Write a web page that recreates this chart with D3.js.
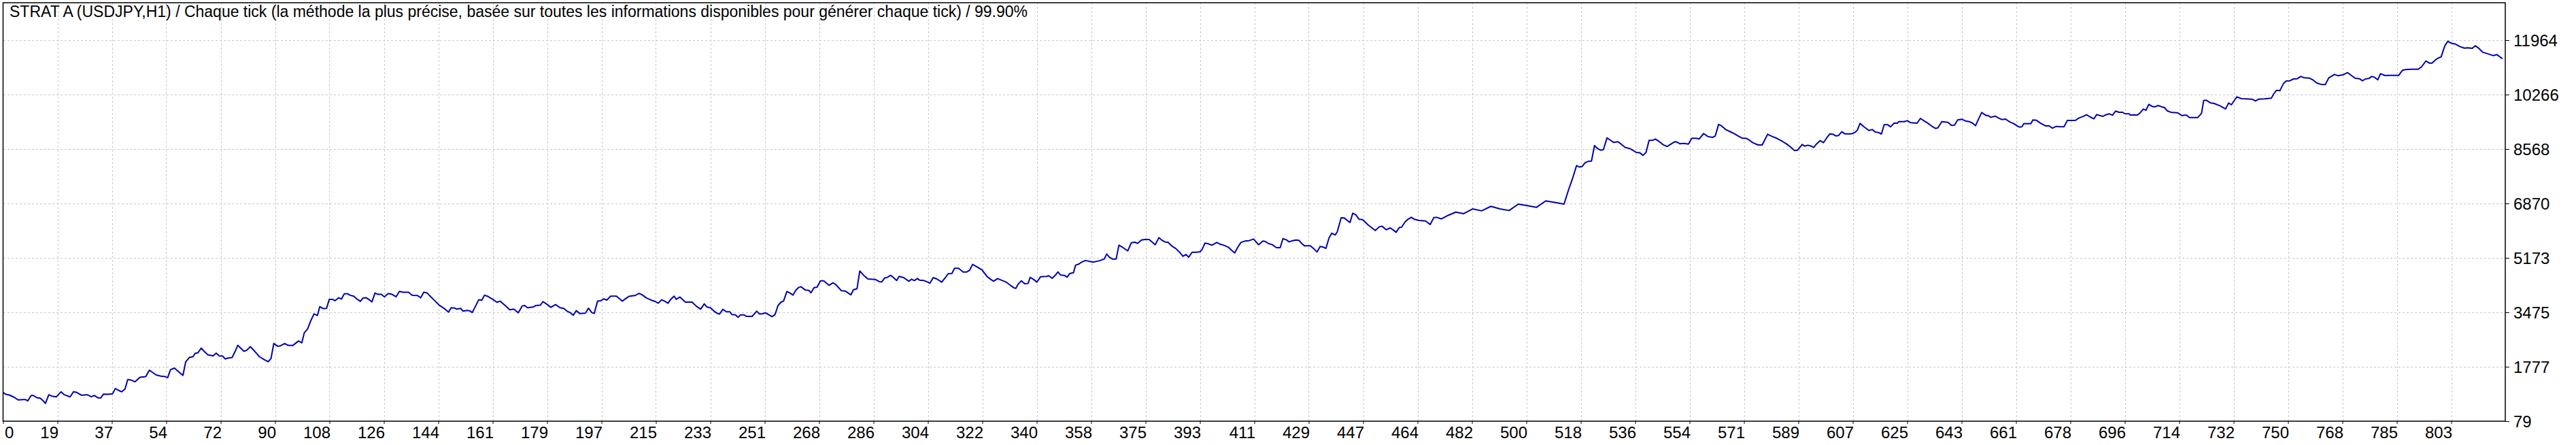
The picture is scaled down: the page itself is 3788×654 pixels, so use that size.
<!DOCTYPE html>
<html><head><meta charset="utf-8">
<script src="https://cdn.jsdelivr.net/npm/d3@7/dist/d3.min.js"></script>
<style>html,body{margin:0;padding:0;background:#fff;overflow:hidden}svg{display:block}</style>
</head><body><svg id="c" width="3788" height="654"></svg>
<script>
const titleText = "STRAT A (USDJPY,H1) / Chaque tick (la méthode la plus précise, basée sur toutes les informations disponibles pour générer chaque tick) / 99.90%";
const xTickLabels = [0,19,37,54,72,90,108,126,144,161,179,197,215,233,251,268,286,304,322,340,358,375,393,411,429,447,464,482,500,518,536,554,571,589,607,625,643,661,678,696,714,732,750,768,785,803];
const yTickLabels = [79,1777,3475,5173,6870,8568,10266,11964];
const trades = [
0,0.9,2,3.5,5,6.5,7.3,8.1,9.2,9.9,11.1,12.2,13.3,13.9,15,16,17.5,19,20.1,22,23.1,24.2,25.7,27.6,29,29.9,31.2,32.1,32.9,34.4,35.9,36.8,37.8,38.9,40,40.9,41.9,43.3,44.9,46.8,48,50.2,51.7,53.1,54,54.9,56.2,57.7,59,59.9,61.1,62.3,63,63.9,65,66,67.2,68.9,69.9,70.9,72,72.9,73.9,75.1,76,77,79,79.9,81.1,82.6,84.1,85.6,87,87.9,88.8,90.1,91,92.4,93.5,95,96.9,98,98.8,99.9,101,102,103.1,103.9,105,106.1,107,108,108.9,110.1,111,111.9,113.1,113.8,115,116.2,
117.2,118.1,119.1,119.9,121,122,122.9,124,125.1,126.3,127.4,128.9,130,131.2,133,134.2,135.9,137,138,139.1,139.8,141.3,143.2,144.7,146.1,147,148.1,148.8,150.1,150.9,152.2,153,153.9,154.9,156,157,157.9,159,160.5,162,163,164.7,166.2,167.5,169,170.3,171.1,172,173.8,174.8,176.2,177.1,178.2,179.7,181.2,182.7,183.9,185,186.1,187,188,189.1,191,192,193.1,193.9,195,196.1,197,198,199.3,201.2,203.1,204.2,205.3,206.8,207.4,208.5,209.5,211,212.5,214,214.9,216,217,218.1,219,220.1,220.8,222,223.8,226,227.3,228.8,230,230.9,232,233.2,234.3,235,
236.1,237.2,238.4,239.1,240.2,241.1,241.9,243,243.8,245.7,247.2,248.1,249.1,250,251.3,252.2,253.2,254.2,255.2,256,257.1,258.1,259.1,260,261,261.7,263.2,264.3,265,266,267,268.1,269.2,270.9,272.2,273.1,275,276.2,278.1,278.9,280.1,281,282.3,283.7,286.1,287.4,288.2,289.2,289.9,291.1,292.1,293.1,293.9,295.4,297.1,298,298.9,299.9,300.6,302.1,303.3,304,305.1,306.3,307.9,308.9,310,311.2,312.1,313.4,314.9,316.1,317,318,319.5,321.1,322.8,324,324.9,326.2,327.4,328.9,330.4,331.7,332.2,333,334,335.1,336.2,336.9,338,339.1,340.3,342.3,343,344.1,345.2,346,346.9,348.1,349,349.9,351.1,351.8,352.8,353.6,
355,357.5,359.5,
361.2,362,362.9,363.9,365.1,366,367.3,368.9,370.1,371.2,372.1,373.4,374.8,375.9,376.9,377.9,379.1,380.1,381.2,382.1,383.4,384.7,385.9,387,388,388.9,390,391.3,392.6,393.3,394.2,395.3,396.5,398.1,399.3,400.4,401.9,403,404,404.9,406,407.3,408.7,410.2,410.9,411.8,413.2,413.9,415.1,416.2,417.7,418.9,419.8,420.9,421.8,423,424.1,425.1,426,426.9,428.8,430.1,431,432,433.1,433.9,434.9,435.8,436.9,437.6,438.9,439.9,441.8,442.7,443.7,444.8,445.9,447.8,450.1,451.4,452.3,453.7,455,456.1,456.9,458,458.7,459.9,460.8,461.9,462.9,464.4,466.6,468.1,469.3,470.2,471.8,
474,476.5,479,482,485,488,491,494,497,500,503,506,509,512,513.5,
514.9,516.1,517,518,518.9,520,521,522,523.1,524,524.9,526.1,527.2,528.3,529.7,530.7,532.1,533.6,534.5,535.7,536.8,537.9,538.9,539.9,541,542,543,544.5,545.8,547.2,548.3,549,550,551.3,552.8,553.9,555.4,556.3,557.8,559.2,560.7,561.6,562.7,563.6,565.1,566.4,567.9,569.4,570.6,571.8,572.8,573.9,575.6,577,578.8,580.3,581.8,583.7,585,586.3,587.6,588.6,
590.1,590.9,592,593,593.9,594.8,596,597.1,598,599.2,600.2,601.1,602,603.1,604.1,606.3,607.5,608.2,609.1,610.5,612,613.1,614.1,615.1,616.1,617,618.2,619.1,620.3,621.4,621.8,623.6,624.6,625.7,627.8,628.9,630,631.2,632.7,633.8,634.6,635.9,637.9,639.1,640.1,641.1,642.6,643.6,644.9,646,647,647.7,649,650.4,651,652,653.4,654.5,655.6,656.8,658.3,659.4,660.5,661.3,662.2,662.8,665.1,665.8,666.9,668.4,669.9,671.1,672.2,673.5,674.5,676,677.1,678.2,679.7,680.9,682,683.4,684.6,685.8,686.7,687.9,688.8,689.7,690.9,691.9,692.9,694,695.2,695.9,697.4,697.8,698.9,699.9,700.8,702,702.9,703.8,705,706.1,706.8,
708.3,708.9,709.9,711.3,713.2,714.7,715.4,716.2,717.1,719.9,721.1,721.8,722.7,724.1,725.2,727.1,729,730,730.9,731.8,732.7,734.2,737.6,738.8,739.9,741.8,744,744.8,745.7,746.8,748,748.9,750.1,751.3,752.5,753.7,754.8,756.4,757.6,758.9,760.6,761.7,762.8,764.7,765.9,767.7,769,770.2,771.5,772.9,773.9,774.9,776,776.9,777.9,778.9,779.8,781.3,782.8,785.8,787,788.1,790,792.2,793.3,794.7,795.8,796.7,798.2,799.7,800.9,801.9,802.9,804.3,805.8,807.3,808.4,809.9,810.9,812,813.3,815.2,816.7,818,818.9,819.8
];
const balance = [
974,917,896,832,740,754,754,711,882,882,811,796,704,633,903,860,839,995,903,839,995,974,889,903,839,882,804,804,924,917,931,1095,1045,995,1081,1379,1365,1308,1450,1471,1670,1521,1486,1471,1436,1685,1734,1613,1507,1926,2068,2090,2196,2210,2360,2253,2146,2118,2203,2118,2111,2018,2054,2061,2232,2445,2260,2288,2402,2253,2090,2004,1933,2040,2502,2416,2431,2502,2445,2438,2580,2523,2836,2956,3226,3425,3376,3653,3589,3596,3880,3880,3837,3930,3887,4051,4051,4008,3979,3880,
3816,3922,3929,3880,3802,4078,4036,4036,3958,4057,4043,3958,4128,4100,4100,4007,4000,3929,4100,4078,4007,3865,3688,3596,3482,3617,3610,3574,3596,3510,3532,3525,3468,3652,3865,3851,4007,3972,3887,3787,3823,3688,3553,3574,3461,3674,3688,3617,3638,3688,3695,3809,3738,3631,3716,3617,3596,3510,3461,3383,3525,3440,3447,3603,3468,3440,3823,3837,3894,3858,3979,3979,3823,3901,3972,3993,4000,4064,4029,3922,3858,3809,3759,3865,3823,3759,3880,3979,3880,3951,3794,3794,3674,3574,3738,3638,3617,3510,3440,3420,
3567,3496,3489,3404,3397,3319,3397,3397,3348,3348,3510,3425,3425,3461,3390,3341,3404,3687,3793,3829,4126,4076,4013,4161,4253,4274,4168,4161,4083,4246,4260,4458,4458,4317,4395,4345,4147,4140,4020,4175,4211,4763,4628,4515,4501,4430,4423,4550,4557,4628,4557,4465,4593,4557,4444,4508,4465,4529,4480,4465,4416,4381,4557,4515,4416,4536,4678,4685,4848,4848,4734,4734,4784,4968,4890,4798,4586,4501,4444,4529,4480,4423,4317,4232,4225,4359,4458,4366,4374,4565,4501,4416,4586,4593,4614,4536,4635,4734,4635,4628,4572,4685,4713,4947,4975,5031,
5090,5040,5080,
5137,5292,5193,5137,5137,5568,5497,5391,5646,5660,5625,5731,5752,5745,5667,5582,5802,5724,5667,5660,5540,5462,5349,5222,5278,5193,5349,5349,5363,5434,5632,5611,5568,5653,5596,5568,5505,5405,5328,5490,5653,5696,5710,5759,5681,5582,5696,5688,5618,5589,5490,5490,5773,5738,5674,5710,5731,5717,5618,5547,5547,5441,5356,5526,5505,5469,5788,5943,5887,5979,6424,6417,6276,6566,6516,6375,6368,6198,6028,6141,6162,6049,6106,6035,5971,6120,6127,6297,6375,6438,6375,6339,6325,6212,6431,6438,6389,
6500,6600,6550,6700,6640,6780,6700,6650,6850,6800,6750,6950,6900,6850,7300,
7681,8050,8007,8029,8142,8185,8192,8674,8575,8533,8547,8916,8845,8774,8795,8724,8618,8582,8533,8462,8454,8369,8462,8838,8838,8880,8816,8703,8646,8731,8795,8788,8731,8745,8724,8902,8902,8880,9051,8958,8930,8973,9335,9292,9171,9115,9044,8958,8902,8902,8845,8767,8696,8696,9029,8958,8902,8802,8724,8632,8518,8533,
8709,8660,8688,8660,8618,8724,8830,8766,8893,9042,9028,8978,8985,9106,9042,9042,9092,9155,9367,9254,9148,9176,9099,9084,9035,9325,9325,9261,9375,9375,9424,9424,9452,9389,9375,9523,9452,9382,9275,9212,9226,9424,9403,9304,9311,9474,9495,9445,9424,9375,9297,9452,9707,9615,9615,9558,9594,9537,9488,9502,9410,9367,9297,9254,9261,9360,9360,9474,9467,9367,9290,9290,9219,9275,9261,9261,9459,9459,9459,9537,9573,9636,9566,9509,9643,9608,9587,9636,9665,9622,9750,9714,9714,9672,9665,9622,9636,9622,9679,9813,9778,9962,9891,9891,9926,
9877,9863,9757,9707,9700,9608,9622,9622,9551,9551,9679,10082,10089,10004,9990,9919,9820,10004,9948,10075,10195,10139,10124,10068,10124,10132,10153,10287,10400,10386,10613,10690,10698,10754,10761,10832,10790,10782,10726,10627,10577,10577,10782,10896,10853,10889,10952,10867,10775,10761,10698,10754,10768,10832,10804,10726,10917,10860,10867,10867,11023,11044,11058,11058,11136,11313,11249,11249,11377,11448,11787,11929,11872,11844,11766,11716,11723,11709,11787,11716,11589,11532,11483,11511,11448,11384
];

const svg = d3.select("#c");
const FONT = "'Liberation Sans', Arial, sans-serif";
const plot = {left: 4.5, right: 3684, top: 4, bottom: 619};
const xStep = xTickLabels[xTickLabels.length - 1] / (xTickLabels.length - 1);
const x = d3.scaleLinear().domain([0, xTickLabels[xTickLabels.length - 1]]).range([4.5, 3604.5]);
const y = d3.scaleLinear().domain([yTickLabels[0], yTickLabels[yTickLabels.length - 1]]).range([619, 59]);
const xTickPos = xTickLabels.map((d, i) => i * xStep);

svg.append("rect").attr("width", 3788).attr("height", 654).attr("fill", "#fff");

// grid
const grid = svg.append("g").attr("stroke", "#c8c8c8").attr("stroke-width", 1).attr("stroke-dasharray", "3,3").attr("shape-rendering", "crispEdges");
grid.selectAll("line.v").data(xTickPos.slice(1)).enter().append("line")
  .attr("x1", d => Math.round(x(d)) + 0.5).attr("x2", d => Math.round(x(d)) + 0.5)
  .attr("y1", plot.top).attr("y2", plot.bottom);
grid.selectAll("line.h").data(yTickLabels.slice(1)).enter().append("line")
  .attr("x1", plot.left).attr("x2", plot.right)
  .attr("y1", d => Math.round(y(d)) + 0.5).attr("y2", d => Math.round(y(d)) + 0.5);

// title
svg.append("text").attr("x", 14).attr("y", 25).attr("font-family", FONT).attr("font-size", 23)
  .attr("fill", "#000").text(titleText);

// line
const pts = trades.map((t, i) => [t, balance[i]]);
svg.append("path").datum(pts)
  .attr("fill", "none").attr("stroke", "#0000b0").attr("stroke-width", 2)
  .attr("stroke-linejoin", "round")
  .attr("d", d3.line().x(d => x(d[0])).y(d => y(d[1])));

// border
svg.append("path").attr("fill", "none").attr("stroke", "#000").attr("stroke-width", 1.5)
  .attr("d", `M${plot.left},${plot.top}H${plot.right}V${plot.bottom}H${plot.left}Z`);

// x axis
const xAxis = d3.axisBottom(x).tickValues(xTickPos).tickSize(4).tickFormat((d, i) => xTickLabels[i]);
const gx = svg.append("g").attr("transform", `translate(0,${plot.bottom})`).call(xAxis);
gx.select(".domain").remove();
gx.selectAll(".tick line").attr("stroke", "#000");
gx.selectAll(".tick text").attr("font-family", FONT).attr("font-size", 24).attr("fill", "#000")
  .attr("dy", 0).attr("y", 25)
  .attr("text-anchor", (d, i) => i === 0 ? "start" : "end")
  .attr("x", (d, i) => i === 0 ? 2 : 1);

// y axis
const yAxis = d3.axisRight(y).tickValues(yTickLabels).tickSize(6).tickFormat(d => d);
const gy = svg.append("g").attr("transform", `translate(${plot.right},0)`).call(yAxis);
gy.select(".domain").remove();
gy.selectAll(".tick line").attr("stroke", "#000");
gy.selectAll(".tick text").attr("font-family", FONT).attr("font-size", 24).attr("fill", "#000")
  .attr("x", 12).attr("dy", "0.36em");
</script></body></html>
